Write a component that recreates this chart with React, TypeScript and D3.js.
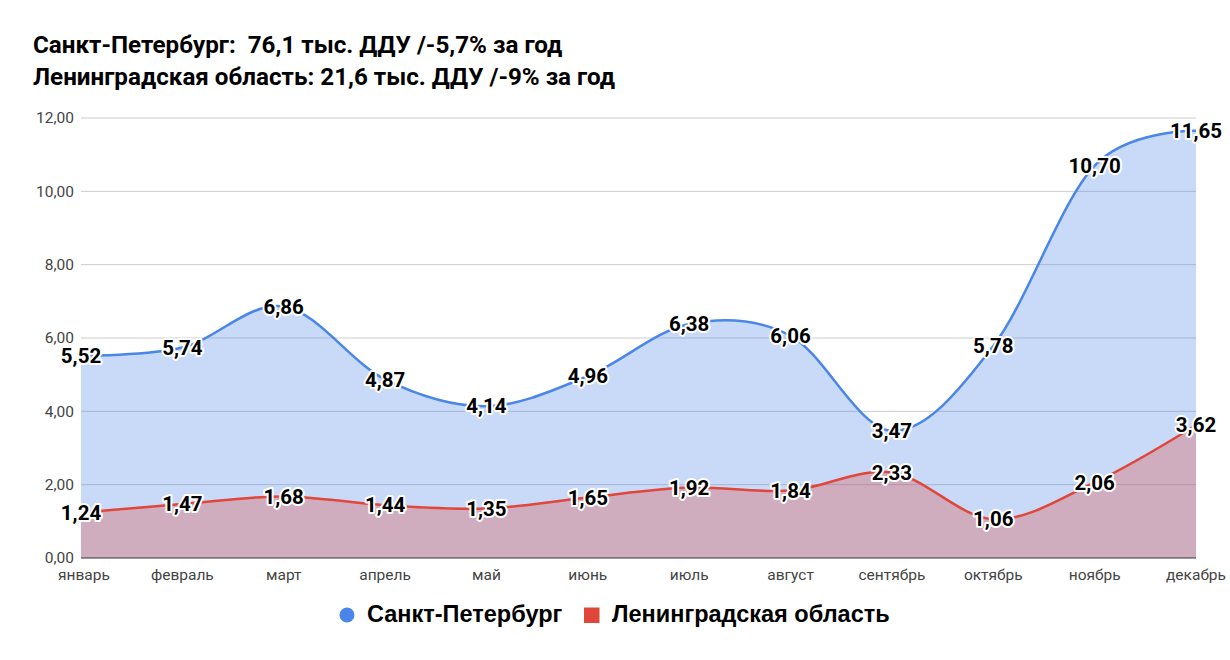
import * as d3 from "d3";
import { useEffect, useRef } from "react";

const months = [
  "январь", "февраль", "март", "апрель", "май", "июнь",
  "июль", "август", "сентябрь", "октябрь", "ноябрь", "декабрь",
];
const spbValues = [5.52, 5.74, 6.86, 4.87, 4.14, 4.96, 6.38, 6.06, 3.47, 5.78, 10.7, 11.65];
const loValues = [1.24, 1.47, 1.68, 1.44, 1.35, 1.65, 1.92, 1.84, 2.33, 1.06, 2.06, 3.62];
const yTicks = [0, 2, 4, 6, 8, 10, 12];
const titleLines = [
  "Санкт-Петербург:  76,1 тыс. ДДУ /-5,7% за год",
  "Ленинградская область: 21,6 тыс. ДДУ /-9% за год",
];
const seriesNames = ["Санкт-Петербург", "Ленинградская область"];

const BLUE = "#4a86e8";
const RED = "#e0463a";
const FONT = "Roboto, Arial, sans-serif";
const LEGEND_FONT = "'Liberation Sans', Arial, sans-serif";

const fmt = (v: number) => v.toFixed(2).replace(".", ",");

export default function App() {
  const ref = useRef<SVGSVGElement | null>(null);

  useEffect(() => {
    if (!ref.current) return;
    const svg = d3.select(ref.current);
    svg.selectAll("*").remove();

    const x = d3.scalePoint<string>().domain(months).range([81, 1196]);
    const y = d3.scaleLinear().domain([0, 12]).range([558, 118]);

    // title
    svg
      .append("g")
      .selectAll("text")
      .data(titleLines)
      .enter()
      .append("text")
      .attr("x", 33)
      .attr("y", (_, i) => 53 + i * 32)
      .attr("font-family", FONT)
      .attr("font-weight", "bold")
      .attr("font-size", 24.2)
      .attr("fill", "#000")
      .style("white-space", "pre")
      .text((d) => d);

    // grid
    const grid = svg.append("g");
    grid
      .selectAll("line")
      .data(yTicks.filter((t) => t > 0))
      .enter()
      .append("line")
      .attr("x1", 81)
      .attr("x2", 1196)
      .attr("y1", (d) => y(d))
      .attr("y2", (d) => y(d))
      .attr("stroke", "#cccccc")
      .attr("stroke-width", 1);

    grid
      .selectAll("text")
      .data(yTicks)
      .enter()
      .append("text")
      .attr("x", 74)
      .attr("y", (d) => y(d))
      .attr("dy", "0.35em")
      .attr("text-anchor", "end")
      .attr("font-family", FONT)
      .attr("font-size", 15.5)
      .attr("fill", "#444")
      .text((d) => fmt(d));

    // month labels
    svg
      .append("g")
      .selectAll("text")
      .data(months)
      .enter()
      .append("text")
      .attr("x", (d, i) => x(d)! + (i === 0 ? 3 : 0))
      .attr("y", 580)
      .attr("text-anchor", "middle")
      .attr("font-family", FONT)
      .attr("font-size", 15.5)
      .attr("fill", "#444")
      .text((d) => d);

    const curve = d3.curveCardinal.tension(0);
    const series = [
      { values: spbValues, color: BLUE },
      { values: loValues, color: RED },
    ];

    series.forEach((s) => {
      const area = d3
        .area<number>()
        .x((_, i) => x(months[i])!)
        .y0(y(0))
        .y1((d) => y(d))
        .curve(curve);
      svg
        .append("path")
        .datum(s.values)
        .attr("d", area)
        .attr("fill", s.color)
        .attr("fill-opacity", 0.3);
    });

    series.forEach((s) => {
      const line = d3
        .line<number>()
        .x((_, i) => x(months[i])!)
        .y((d) => y(d))
        .curve(curve);
      svg
        .append("path")
        .datum(s.values)
        .attr("d", line)
        .attr("fill", "none")
        .attr("stroke", s.color)
        .attr("stroke-width", 2.5);
    });

    // baseline
    svg
      .append("line")
      .attr("x1", 81)
      .attr("x2", 1196)
      .attr("y1", y(0))
      .attr("y2", y(0))
      .attr("stroke", "#333")
      .attr("stroke-width", 1);

    // data labels
    series.forEach((s) => {
      svg
        .append("g")
        .selectAll("text")
        .data(s.values)
        .enter()
        .append("text")
        .attr("x", (_, i) => x(months[i])!)
        .attr("y", (d) => y(d))
        .attr("dy", "0.35em")
        .attr("text-anchor", "middle")
        .attr("font-family", FONT)
        .attr("font-weight", "bold")
        .attr("font-size", 20.5)
        .attr("fill", "#000")
        .attr("stroke", "#fff")
        .attr("stroke-width", 4)
        .attr("stroke-linejoin", "round")
        .attr("paint-order", "stroke")
        .text((d) => fmt(d));
    });

    // legend
    const legend = svg.append("g");
    legend
      .append("circle")
      .attr("cx", 347)
      .attr("cy", 615)
      .attr("r", 7.5)
      .attr("fill", BLUE);
    legend
      .append("text")
      .attr("x", 367)
      .attr("y", 622)
      .attr("font-family", LEGEND_FONT)
      .attr("font-weight", "bold")
      .attr("font-size", 23.5)
      .text(seriesNames[0]);
    legend
      .append("rect")
      .attr("x", 584)
      .attr("y", 607.5)
      .attr("width", 15.5)
      .attr("height", 15.5)
      .attr("fill", RED);
    legend
      .append("text")
      .attr("x", 612)
      .attr("y", 622)
      .attr("font-family", LEGEND_FONT)
      .attr("font-weight", "bold")
      .attr("font-size", 23.5)
      .text(seriesNames[1]);
  }, []);

  return (
    <svg
      ref={ref}
      width={1230}
      height={660}
      style={{ position: "absolute", left: 0, top: 0, background: "#fff" }}
    />
  );
}
